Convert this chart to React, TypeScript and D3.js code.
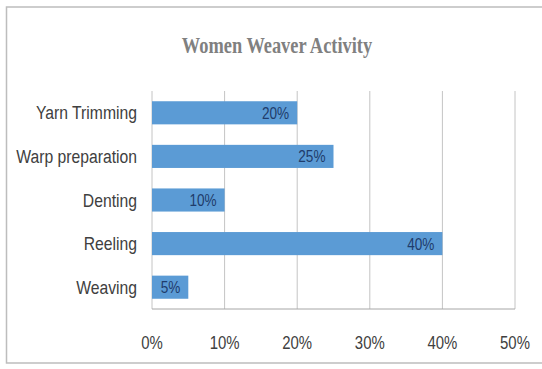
import React from "react";
import * as d3 from "d3";

const categories = ["Yarn Trimming", "Warp preparation", "Denting", "Reeling", "Weaving"];
const shares = [20, 25, 10, 40, 5];
const tickValues = [0, 10, 20, 30, 40, 50];
const chartTitle = "Women Weaver Activity";

const W = 542;
const H = 369;
const margin = { top: 91, right: 27, bottom: 60, left: 152 };

// narrow sans look: regular sans squeezed horizontally
const sansFont = "'Liberation Sans', Arial, sans-serif";

type LabelProps = {
  x: number;
  y: number;
  anchor: "start" | "middle" | "end";
  size: number;
  fill: string;
  squeeze?: number;
  children: React.ReactNode;
};

function NarrowText({ x, y, anchor, size, fill, squeeze = 0.8, children }: LabelProps) {
  return (
    <text
      transform={`translate(${x},${y}) scale(${squeeze},1)`}
      textAnchor={anchor}
      fontFamily={sansFont}
      fontSize={size}
      fill={fill}
    >
      {children}
    </text>
  );
}

export default function App() {
  const x = d3.scaleLinear().domain([0, 50]).range([margin.left, W - margin.right]);
  const y = d3
    .scaleBand<string>()
    .domain(categories)
    .range([margin.top, H - margin.bottom])
    .paddingInner(0.47)
    .paddingOuter(0.235);

  const bottom = H - margin.bottom;
  const mid = (c: string) => (y(c) ?? 0) + y.bandwidth() / 2;

  return (
    <svg
      width={W}
      height={H}
      style={{ position: "absolute", left: 0, top: 0, background: "#fff" }}
    >
      {/* outer chart frame */}
      <rect x={6.5} y={7} width={W + 10} height={356} fill="#fff" stroke="#bdbdbd" strokeWidth={1.5} />

      <text
        transform={`translate(277,53) scale(0.8,1)`}
        textAnchor="middle"
        fontFamily="'Liberation Serif', 'DejaVu Serif', serif"
        fontWeight="bold"
        fontSize={23}
        fill="#808080"
      >
        {chartTitle}
      </text>

      {/* vertical gridlines */}
      {tickValues.map((t) => (
        <line
          key={"g" + t}
          x1={x(t)}
          x2={x(t)}
          y1={margin.top}
          y2={bottom}
          stroke="#c4c4c4"
          strokeWidth={1}
        />
      ))}
      <line x1={x(0)} x2={x(50)} y1={bottom} y2={bottom} stroke="#a6a6a6" strokeWidth={1} />

      {/* bars */}
      {categories.map((c, i) => (
        <rect
          key={c}
          x={x(0)}
          y={y(c)}
          width={x(shares[i]) - x(0)}
          height={y.bandwidth()}
          fill="#5b9bd5"
        />
      ))}

      {/* value labels at the inside end of each bar */}
      {categories.map((c, i) => (
        <NarrowText key={"v" + c} x={x(shares[i]) - 8} y={mid(c) + 6} anchor="end" size={17} fill="#1f3c6b">
          {shares[i]}%
        </NarrowText>
      ))}

      {/* category labels */}
      {categories.map((c) => (
        <NarrowText key={"c" + c} x={137} y={mid(c) + 6.5} anchor="end" size={18.5} squeeze={0.85} fill="#404040">
          {c}
        </NarrowText>
      ))}

      {/* x-axis tick labels */}
      {tickValues.map((t) => (
        <NarrowText key={"t" + t} x={x(t)} y={349} anchor="middle" size={18} squeeze={0.83} fill="#404040">
          {t}%
        </NarrowText>
      ))}
    </svg>
  );
}
